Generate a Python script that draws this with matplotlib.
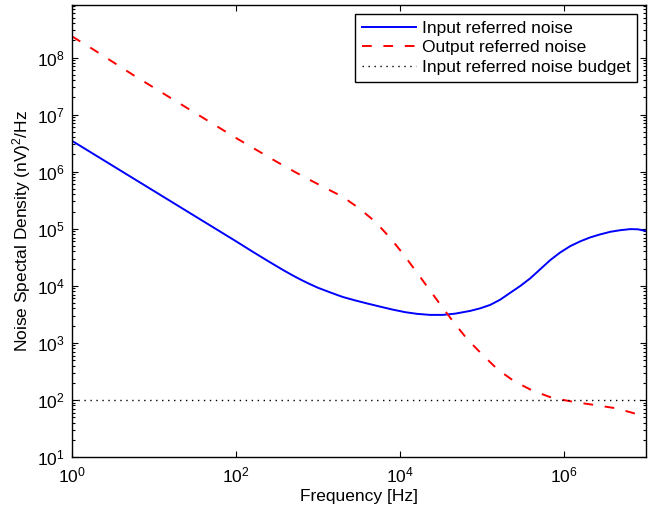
import matplotlib
matplotlib.use("Agg")
import matplotlib.pyplot as plt
import matplotlib.ticker as mticker
import numpy as np

plt.rcParams['font.family'] = ['Liberation Sans', 'DejaVu Sans']
plt.rcParams['mathtext.fontset'] = 'custom'
plt.rcParams['mathtext.rm'] = 'Liberation Sans'
plt.rcParams['mathtext.default'] = 'regular'

# log10 of frequency [Hz] and log10 of noise density
input_logf = [0.0, 0.25, 0.5, 0.75, 1.0, 1.25, 1.5, 1.75, 2.0, 2.2, 2.4, 2.576,
              2.7, 2.8, 2.9, 3.0, 3.147, 3.3, 3.45, 3.6, 3.757, 3.91, 4.062, 4.21, 4.367,
              4.52, 4.673, 4.856, 4.978, 5.1, 5.22, 5.344, 5.47, 5.588, 5.71, 5.832,
              5.95, 6.076, 6.2, 6.32, 6.44, 6.565, 6.69, 6.81, 6.9, 7.0]
input_logn = [6.54, 6.32, 6.10, 5.88, 5.66, 5.44, 5.22, 5.00, 4.78, 4.60, 4.425, 4.275,
              4.175, 4.10, 4.03, 3.965, 3.885, 3.805, 3.745, 3.69, 3.635, 3.583, 3.538, 3.508, 3.49,
              3.49, 3.512, 3.56, 3.605, 3.665, 3.755, 3.877, 4.0, 4.13, 4.29, 4.45,
              4.58, 4.695, 4.78, 4.848, 4.90, 4.946, 4.975, 4.993, 4.99, 4.96]

output_logf = [0.0, 0.25, 0.5, 0.75, 1.0, 1.25, 1.5, 1.75, 2.0, 2.25, 2.5, 2.75,
               3.0, 3.15, 3.3, 3.5, 3.7, 3.88, 4.04, 4.2, 4.35, 4.5, 4.66, 4.82,
               5.0, 5.19, 5.39, 5.62, 5.86, 6.12, 6.37, 6.63, 6.87, 7.0]
output_logn = [8.37, 8.15, 7.92, 7.69, 7.47, 7.25, 7.03, 6.81, 6.59, 6.38, 6.17, 5.97,
               5.78, 5.67, 5.56, 5.36, 5.12, 4.84, 4.555, 4.245, 3.95, 3.655, 3.35, 3.065,
               2.80, 2.535, 2.33, 2.16, 2.035, 1.965, 1.912, 1.855, 1.76, 1.71]

budget_f = [1.0, 1e7]
budget_n = [100.0, 100.0]

labels = ['Input referred noise', 'Output referred noise', 'Input referred noise budget']

fig = plt.figure(figsize=(6.65, 5.13), dpi=100)
ax = fig.add_axes([72/665, (513-457)/513, 574/665, 452/513])

f_in = 10.0 ** np.array(input_logf)
n_in = 10.0 ** np.array(input_logn)
f_out = 10.0 ** np.array(output_logf)
n_out = 10.0 ** np.array(output_logn)

ax.plot(f_in, n_in, color='#0000ff', lw=1.4, label=labels[0])
ax.plot(f_out, n_out, color='#ff0000', lw=1.4, linestyle=(0, (5, 6)), label=labels[1])
ax.plot(budget_f, budget_n, color='black', lw=1.0, linestyle=(0, (1, 3.3)), label=labels[2])

ax.set_xscale('log')
ax.set_yscale('log')
ax.set_xlim(1, 1e7)
ax.set_ylim(10, 10 ** 8.92)

ax.xaxis.set_major_locator(mticker.FixedLocator([1, 1e2, 1e4, 1e6]))
ax.xaxis.set_minor_locator(mticker.NullLocator())
ax.yaxis.set_major_locator(mticker.LogLocator(base=10, numticks=20))
ax.yaxis.set_minor_locator(mticker.LogLocator(base=10, subs=np.arange(2, 10), numticks=20))

def fmt(v, pos):
    e = int(round(np.log10(v)))
    return r'$10^{%d}$' % e

ax.xaxis.set_major_formatter(mticker.FuncFormatter(fmt))
ax.yaxis.set_major_formatter(mticker.FuncFormatter(fmt))
ax.yaxis.set_minor_formatter(mticker.NullFormatter())
ax.xaxis.offsetText.set_visible(False)
ax.yaxis.offsetText.set_visible(False)

ax.tick_params(which='both', direction='in', top=True, right=True, labelsize=12.5, width=0.8)
ax.tick_params(which='major', length=4.3)
ax.tick_params(which='minor', length=2.3)
ax.tick_params(axis='x', pad=6)
ax.tick_params(axis='y', pad=5)
for s in ax.spines.values():
    s.set_linewidth(1.0)

ax.set_xlabel('Frequency [Hz]', fontsize=12.5, labelpad=3)
ax.set_ylabel(r'Noise Spectal Density (nV)$^2$/Hz', fontsize=12.5, labelpad=3)

leg = ax.legend(loc='upper right', fontsize=12.5, frameon=True, fancybox=False,
                edgecolor='black', framealpha=1, handlelength=3.1, handletextpad=0.35,
                labelspacing=0.25, borderpad=0.4, borderaxespad=0.5)
leg.get_frame().set_linewidth(1.0)

fig.savefig('out.png', dpi=100)
